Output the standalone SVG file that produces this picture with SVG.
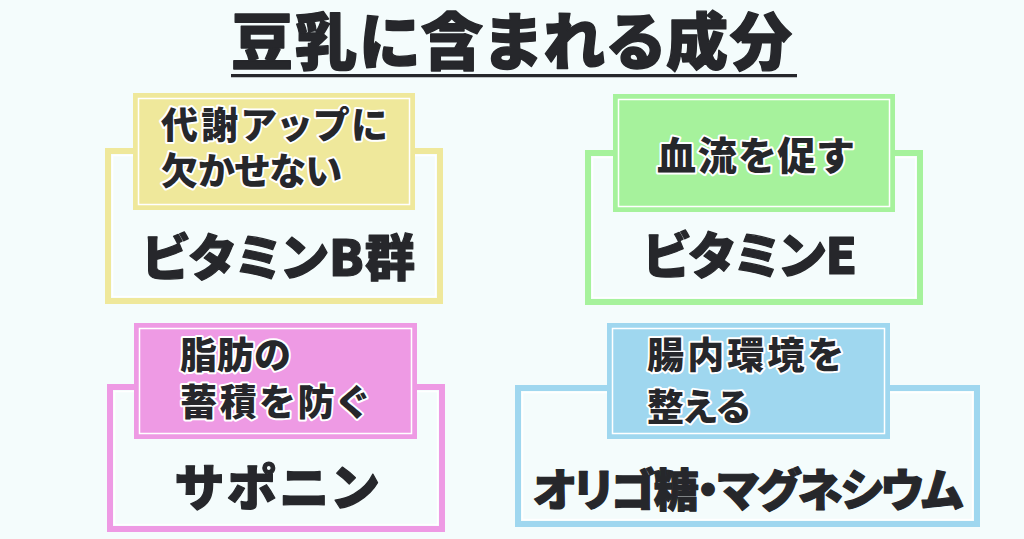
<svg xmlns="http://www.w3.org/2000/svg" width="1024" height="539" viewBox="0 0 1024 539">
<style>
text{font-family:"Noto Sans CJK JP","Noto Sans CJK SC",sans-serif;font-weight:900;fill:#26272b;font-feature-settings:"palt"}
.title{font-size:62px;stroke:#26272b;stroke-width:1.4px;stroke-linejoin:round}
.lbl{font-size:37px;stroke:#ffffff;stroke-width:4px;paint-order:stroke;stroke-linejoin:round}
.main{font-size:50px;stroke:#26272b;stroke-width:1.2px;stroke-linejoin:round}
.frame{fill:none;stroke-width:6}
.inner{fill:none;stroke:#ffffff;stroke-width:1.5}
.y{stroke:#efe89b}.yf{fill:#efe89b}
.g{stroke:#a6f29c}.gf{fill:#a6f29c}
.p{stroke:#ee9ae4}.pf{fill:#ee9ae4}
.b{stroke:#9fd7ef}.bf{fill:#9fd7ef}
</style>
<rect width="1024" height="539" fill="#f4fcfc"/>
<g id="title">
<text class="title" x="231" y="65" textLength="561" lengthAdjust="spacing">豆乳に含まれる成分</text>
<rect x="231" y="74" width="566" height="3" fill="#26272b"/>
<rect x="231" y="77" width="566" height="1" fill="#bfc4c6"/>
</g>
<g id="node-vitb">
<rect class="frame y" x="108" y="151" width="332" height="150"/>
<rect class="inner" x="112.5" y="155.5" width="323" height="141"/>
<rect class="yf" x="133" y="93" width="282" height="117"/>
<rect class="inner" x="138.5" y="98.5" width="271" height="106"/>
<text class="lbl" x="161" y="139" textLength="226" lengthAdjust="spacing">代謝アップに</text>
<text class="lbl" x="161" y="185">欠かせない</text>
<text class="main" x="142" y="276" textLength="273" lengthAdjust="spacing">ビタミンB群</text>
</g>
<g id="node-vite">
<rect class="frame g" x="588" y="153" width="332" height="149"/>
<rect class="inner" x="592.5" y="157.5" width="323" height="140"/>
<rect class="gf" x="613" y="94" width="282" height="118"/>
<rect class="inner" x="618.5" y="99.5" width="271" height="107"/>
<text class="lbl" x="657" y="170" textLength="196" lengthAdjust="spacing" style="font-size:39px">血流を促す</text>
<text class="main" x="643" y="274" textLength="214" lengthAdjust="spacing">ビタミンE</text>
</g>
<g id="node-saponin">
<rect class="frame p" x="110" y="387" width="332" height="142"/>
<rect class="inner" x="114.5" y="391.5" width="323" height="133"/>
<rect class="pf" x="134" y="323" width="283" height="116"/>
<rect class="inner" x="139.5" y="328.5" width="272" height="105"/>
<text class="lbl" x="180" y="369">脂肪の</text>
<text class="lbl" x="180" y="416" textLength="187" lengthAdjust="spacing">蓄積を防ぐ</text>
<text class="main" x="175" y="506" textLength="203" lengthAdjust="spacing">サポニン</text>
</g>
<g id="node-oligo">
<rect class="frame b" x="518" y="388" width="459" height="136"/>
<rect class="inner" x="522.5" y="392.5" width="450" height="127"/>
<rect class="bf" x="607" y="323" width="283" height="116"/>
<rect class="inner" x="612.5" y="328.5" width="272" height="105"/>
<text class="lbl" x="647" y="369" textLength="196" lengthAdjust="spacing">腸内環境を</text>
<text class="lbl" x="647" y="421">整える</text>
<text class="main" x="533" y="507" textLength="430" lengthAdjust="spacing" style="font-size:45px">オリゴ糖・マグネシウム</text>
</g>
<g id="connectors"></g>
</svg>
